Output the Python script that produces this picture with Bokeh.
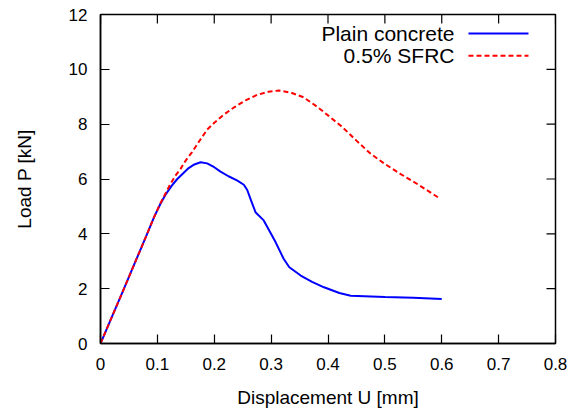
from bokeh.plotting import figure
from bokeh.models import Range1d, Label, Arrow, FixedTicker
from bokeh.embed import file_html
from bokeh.resources import INLINE

plain_u = [0, 0.02, 0.04, 0.06, 0.08, 0.094, 0.105, 0.115, 0.125, 0.135, 0.145, 0.155, 0.165,
           0.176, 0.1875, 0.20, 0.211, 0.225, 0.24, 0.252, 0.258, 0.265, 0.2725, 0.287, 0.308,
           0.322, 0.332, 0.352, 0.372, 0.393, 0.42, 0.44, 0.50, 0.55, 0.60]
plain_p = [0, 0.97, 1.94, 2.92, 3.9, 4.6, 5.08, 5.45, 5.75, 6.0, 6.2, 6.4, 6.53,
           6.61, 6.57, 6.43, 6.27, 6.1, 5.95, 5.79, 5.6, 5.2, 4.79, 4.49, 3.69,
           3.09, 2.78, 2.48, 2.25, 2.05, 1.84, 1.74, 1.70, 1.67, 1.62]

sfrc_u = [0, 0.02, 0.04, 0.06, 0.08, 0.094, 0.105, 0.115, 0.123, 0.131, 0.1407, 0.15, 0.161,
          0.175, 0.1876, 0.20, 0.215, 0.234, 0.255, 0.2755, 0.295, 0.3136, 0.335, 0.357, 0.38,
          0.40, 0.425, 0.45, 0.475, 0.50, 0.527, 0.56, 0.595]
sfrc_p = [0, 0.97, 1.94, 2.92, 3.9, 4.6, 5.1, 5.5, 5.82, 6.1, 6.37, 6.68, 6.98,
          7.42, 7.8, 8.05, 8.32, 8.6, 8.87, 9.07, 9.18, 9.23, 9.15, 8.98, 8.65,
          8.32, 7.9, 7.4, 6.92, 6.55, 6.19, 5.78, 5.31]

x_ticks = [0, 0.1, 0.2, 0.3, 0.4, 0.5, 0.6, 0.7, 0.8]
y_ticks = [0, 2, 4, 6, 8, 10, 12]
series_names = ["Plain concrete", "0.5% SFRC"]

FONT = "Liberation Sans"
XMIN, XMAX, YMIN, YMAX = 0, 0.8, 0, 12
FW, FH = 455, 329

p = figure(frame_width=FW, frame_height=FH, output_backend="svg", toolbar_location=None,
           x_range=Range1d(XMIN, XMAX), y_range=Range1d(YMIN, YMAX),
           min_border_left=100, min_border_right=32, min_border_top=14, min_border_bottom=68,
           x_axis_label="Displacement U [mm]", y_axis_label="Load P [kN]")

p.xgrid.visible = False
p.ygrid.visible = False
p.outline_line_color = "black"
p.outline_line_width = 1.5
p.background_fill_color = "white"
p.border_fill_color = "white"

for ax, ticks in ((p.xaxis[0], x_ticks), (p.yaxis[0], y_ticks)):
    ax.ticker = FixedTicker(ticks=ticks)
    ax.major_tick_in = 9
    ax.major_tick_out = 0
    ax.minor_tick_line_color = None
    ax.axis_line_width = 1.5
    ax.major_tick_line_width = 1.2
    ax.major_label_text_font = FONT
    ax.major_label_text_font_size = "17px"
    ax.major_label_text_color = "black"
    ax.axis_label_text_font = FONT
    ax.axis_label_text_font_size = "19px"
    ax.axis_label_text_font_style = "normal"
    ax.axis_label_text_color = "black"

p.xaxis[0].major_label_standoff = 14
p.xaxis[0].axis_label_standoff = 14
p.yaxis[0].major_label_standoff = 13
p.yaxis[0].axis_label_standoff = 31

# mirrored inward ticks on top and right borders (9 px long)
tlx = 9 * (YMAX - YMIN) / FH
tly = 9 * (XMAX - XMIN) / FW
p.segment(x0=x_ticks, y0=[YMAX] * len(x_ticks), x1=x_ticks, y1=[YMAX - tlx] * len(x_ticks),
          line_color="black", line_width=1.2)
p.segment(x0=[XMAX] * len(y_ticks), y0=y_ticks, x1=[XMAX - tly] * len(y_ticks), y1=y_ticks,
          line_color="black", line_width=1.2)

p.line(plain_u, plain_p, line_color="#0000ff", line_width=2)
p.line(sfrc_u, sfrc_p, line_color="#ff0000", line_width=2, line_dash="5 3")

# legend (text right-aligned, sample to the right)
leg_rows = [(11.31, "#0000ff", "solid"), (10.50, "#ff0000", "5 3")]
for name, (yy, col, dash) in zip(series_names, leg_rows):
    p.add_layout(Label(x=0.6224, y=yy, text=name, text_align="right", text_baseline="middle",
                       text_font=FONT, text_font_size="21px", text_color="black"))
    p.add_layout(Arrow(x_start=0.647, y_start=yy, x_end=0.7525, y_end=yy, end=None,
                       line_color=col, line_width=2, line_dash=dash))

open("out.html", "w").write(file_html(p, INLINE))
